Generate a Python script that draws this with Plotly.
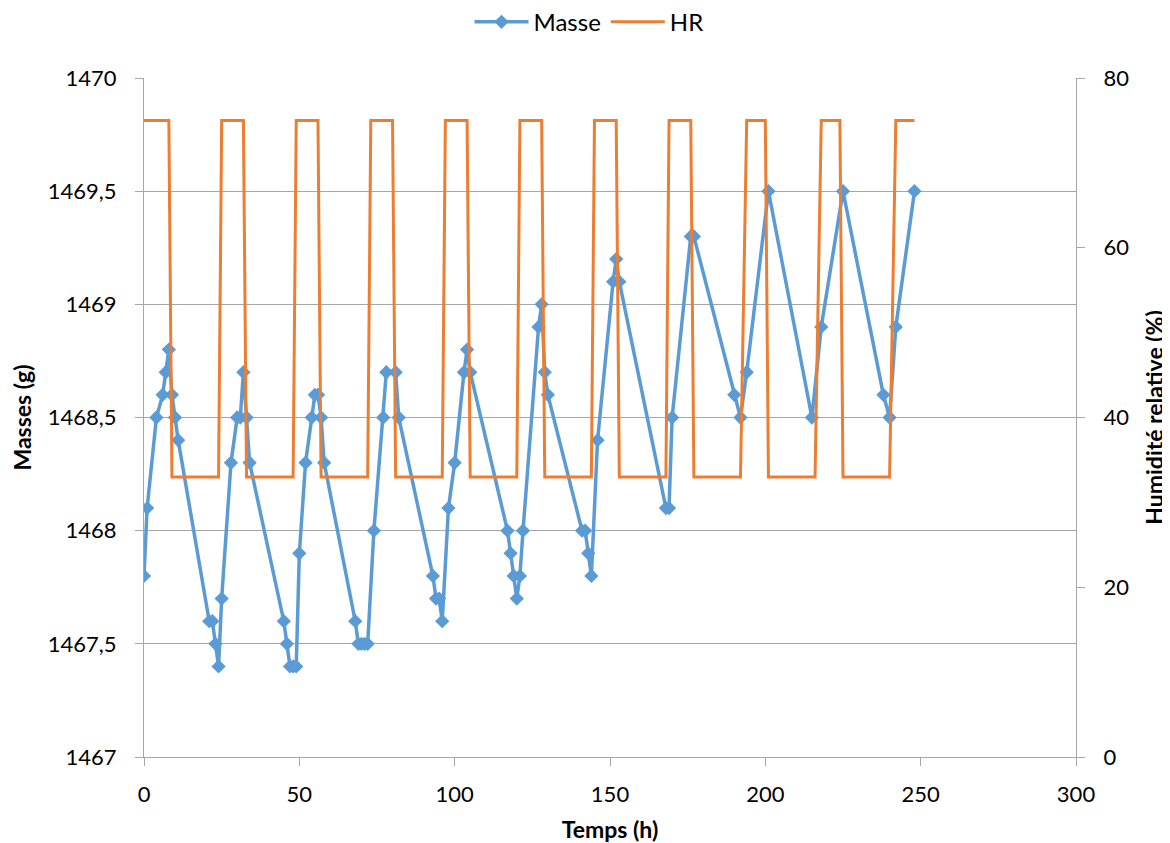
import plotly.graph_objects as go

# Masse (g) vs time (h)
masse_temps = [0, 1, 4, 6, 7, 8, 9, 10, 11, 21, 22, 23, 24, 25, 28, 30, 31, 32, 33, 34,
               45, 46, 47, 48, 49, 50, 52, 54, 55, 56, 57, 58, 68, 69, 70, 71, 72, 74,
               77, 78, 81, 82, 93, 94, 95, 96, 98, 100, 103, 104, 105, 117, 118, 119,
               120, 121, 122, 127, 128, 129, 130, 141, 142, 143, 144, 146, 151, 152,
               153, 168, 169, 170, 176, 177, 190, 192, 194, 201, 215, 218, 225, 238,
               240, 242, 248]
masse_valeurs = [1467.8, 1468.1, 1468.5, 1468.6, 1468.7, 1468.8, 1468.6, 1468.5, 1468.4,
                 1467.6, 1467.6, 1467.5, 1467.4, 1467.7, 1468.3, 1468.5, 1468.5, 1468.7,
                 1468.5, 1468.3, 1467.6, 1467.5, 1467.4, 1467.4, 1467.4, 1467.9, 1468.3,
                 1468.5, 1468.6, 1468.6, 1468.5, 1468.3, 1467.6, 1467.5, 1467.5, 1467.5,
                 1467.5, 1468.0, 1468.5, 1468.7, 1468.7, 1468.5, 1467.8, 1467.7, 1467.7,
                 1467.6, 1468.1, 1468.3, 1468.7, 1468.8, 1468.7, 1468.0, 1467.9, 1467.8,
                 1467.7, 1467.8, 1468.0, 1468.9, 1469.0, 1468.7, 1468.6, 1468.0, 1468.0,
                 1467.9, 1467.8, 1468.4, 1469.1, 1469.2, 1469.1, 1468.1, 1468.1, 1468.5,
                 1469.3, 1469.3, 1468.6, 1468.5, 1468.7, 1469.5, 1468.5, 1468.9, 1469.5,
                 1468.6, 1468.5, 1468.9, 1469.5]

# Relative humidity (%) vs time (h)
hr_temps = [0, 8, 9, 24, 25, 32, 33, 48, 49, 56, 57, 72, 73, 80, 81, 96, 97, 104, 105,
            120, 121, 128, 129, 144, 145, 152, 153, 168, 169, 176, 177, 192, 194, 200,
            201, 216, 218, 224, 225, 240, 242, 248]
hr_valeurs = [75, 75, 33, 33, 75, 75, 33, 33, 75, 75, 33, 33, 75, 75, 33, 33, 75, 75, 33,
              33, 75, 75, 33, 33, 75, 75, 33, 33, 75, 75, 33, 33, 75, 75,
              33, 33, 75, 75, 33, 33, 75, 75]

y_masse_ticks = [1467, 1467.5, 1468, 1468.5, 1469, 1469.5, 1470]
y_masse_labels = ["1467", "1467,5", "1468", "1468,5", "1469", "1469,5", "1470"]
y_hr_ticks = [0, 20, 40, 60, 80]
x_ticks = [0, 50, 100, 150, 200, 250, 300]

FONT = "Lato"
BLUE = "#5B9BD5"
ORANGE = "#ED7D31"
GRID = "#A6A6A6"

fig = go.Figure()
fig.add_trace(go.Scatter(
    x=masse_temps, y=masse_valeurs, name="Masse", mode="lines+markers",
    line=dict(color=BLUE, width=3.5),
    marker=dict(symbol="diamond", size=11, color=BLUE),
    yaxis="y"))
fig.add_trace(go.Scatter(
    x=hr_temps, y=hr_valeurs, name="HR", mode="lines",
    line=dict(color=ORANGE, width=3),
    yaxis="y2"))

# page body has an 8px default margin: size the figure so it fills the window
fig.update_layout(
    width=1162, height=835,
    margin=dict(l=136, r=94, t=70, b=86),
    paper_bgcolor="white", plot_bgcolor="white",
    font=dict(family=FONT, size=22, color="#000000"),
    showlegend=True,
    legend=dict(orientation="h", x=0.5, xanchor="center", xref="container",
                y=0.983, yref="container", yanchor="middle",
                font=dict(family=FONT, size=24), itemwidth=54,
                bgcolor="rgba(0,0,0,0)"),
    xaxis=dict(range=[0, 300], tickvals=x_ticks, showgrid=False, automargin=False,
               showline=True, linecolor=GRID, linewidth=1,
               ticks="outside", ticklen=8, tickcolor=GRID, tickwidth=1,
               ticklabelstandoff=10, zeroline=False,
               title=dict(text="<b>Temps (h)</b>", font=dict(size=23), standoff=16)),
    yaxis=dict(range=[1467, 1470], tickvals=y_masse_ticks, ticktext=y_masse_labels,
               showgrid=True, gridcolor=GRID, gridwidth=1, automargin=False,
               showline=True, linecolor=GRID, linewidth=1,
               ticks="outside", ticklen=8, tickcolor=GRID, tickwidth=1,
               ticklabelstandoff=14, zeroline=False,
               title=dict(text="<b>Masses (g)</b>", font=dict(size=23), standoff=12)),
    yaxis2=dict(range=[0, 80], tickvals=y_hr_ticks, overlaying="y", side="right",
                showgrid=False, showline=True, linecolor=GRID, linewidth=1,
                automargin=False,
                ticks="outside", ticklen=8, tickcolor=GRID, tickwidth=1,
                ticklabelstandoff=14, zeroline=False,
                title=dict(text="<b>Humidité relative (%)</b>", font=dict(size=23), standoff=18)),
)

fig.write_html("out.html")
